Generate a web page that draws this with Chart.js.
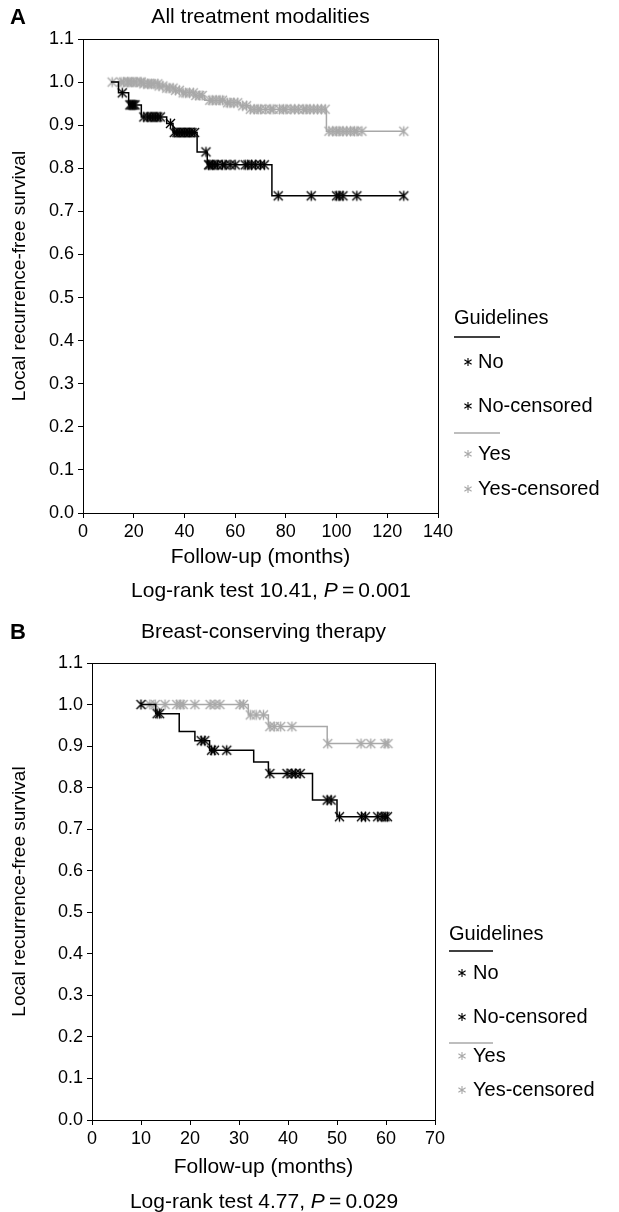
<!DOCTYPE html>
<html>
<head>
<meta charset="utf-8">
<script src="https://cdn.jsdelivr.net/npm/chart.js@4.4.1/dist/chart.umd.min.js"></script>
<style>
html, body { margin: 0; padding: 0; background: #fff; }
canvas { display: block; }
</style>
</head>
<body>
<canvas id="chartA" width="619" height="605"></canvas>
<canvas id="chartB" width="619" height="607"></canvas>
<script>
// Panel A - all treatment modalities
const noTimesA = [11, 14, 18, 23, 33, 35.5, 45, 49, 74.5, 126.5];
const noSurvA = [1.0, 0.975, 0.947, 0.919, 0.904, 0.883, 0.838, 0.808, 0.736, 0.736];
const noCensA = [15.5, 18.5, 19, 19.5, 20, 20.5, 24, 25.5, 26.5, 27.5, 28.5, 29.5, 30.5, 34.5,
  36, 37, 38, 39, 40, 41, 42, 43, 44, 48.5, 49.5, 50, 51, 52, 53, 55, 56, 58, 60, 64, 65,
  66.5, 68, 70, 71.5, 77, 90, 100, 101, 102.5, 108, 126.5];
const yesTimesA = [11, 24, 30, 33, 36, 39, 44, 48, 56, 62, 66, 96, 126.5];
const yesSurvA = [1.0, 0.996, 0.991, 0.986, 0.981, 0.975, 0.969, 0.958, 0.952, 0.945, 0.937, 0.886, 0.886];
const yesCensA = [11.5, 15, 16, 17.5, 18, 19, 20, 21, 22.5, 23, 24, 25.5, 26, 27, 28, 29.5, 30,
  31.5, 33, 34, 35.5, 36.5, 38, 39.5, 40.5, 42, 43.5, 44.5, 46, 47, 50, 51, 52.5, 54, 55, 57,
  58, 59.5, 61, 63, 64.5, 66, 67.5, 69, 70, 72, 74, 75, 77.5, 79, 80, 82, 83.5, 85, 87, 88,
  89.5, 91, 92.5, 94, 95.5, 97, 98.5, 100, 101, 102.5, 104, 105.5, 107, 108, 110, 126.5];
const xTicksA = { min: 0, max: 140, step: 20 };
const logRankA = ['10.41', '0.001'];

// Panel B - breast-conserving therapy
const noTimesB = [10, 13, 17.8, 21, 24, 33, 36, 45, 50, 60.3];
const noSurvB = [1.0, 0.978, 0.935, 0.913, 0.890, 0.862, 0.834, 0.770, 0.730, 0.730];
const noCensB = [10, 13.3, 13.8, 22.3, 23, 24.4, 25, 27.5, 36.3, 39.8, 40.8, 41.5, 42.5, 48,
  48.8, 50.5, 55, 55.8, 58.3, 59.2, 59.8, 60.3];
const yesTimesB = [10.5, 31.9, 36, 48, 60.4];
const yesSurvB = [1.0, 0.975, 0.947, 0.906, 0.906];
const yesCensB = [11.8, 12.9, 14.9, 17.3, 18, 18.6, 21, 24.1, 25.1, 26.1, 30.2, 30.9, 32.3,
  33.5, 35, 36.3, 37.2, 38.5, 40.8, 48.1, 54.9, 56.9, 59.8, 60.4];
const xTicksB = { min: 0, max: 70, step: 10 };
const logRankB = ['4.77', '0.029'];

const yTicks = { min: 0, max: 1.1, step: 0.1 };

const BLACK = '#000000';
const GREY = '#a8a8a8';
const FONT = '"Liberation Sans", Arial, Helvetica, sans-serif';

Chart.defaults.font.family = FONT;
Chart.defaults.color = '#000';

function survivalAt(times, surv, t) {
  let s = surv[0];
  for (let i = 0; i < times.length; i++) {
    if (times[i] <= t) s = surv[i];
  }
  return s;
}

// asterisk marker (vertical bar + X), like the SPSS censor mark
function starImage(color, r, lw) {
  const c = document.createElement('canvas');
  const size = Math.ceil(r * 2 + 3);
  c.width = size; c.height = size;
  const ctx = c.getContext('2d');
  const m = size / 2;
  ctx.strokeStyle = color;
  ctx.lineWidth = lw;
  ctx.beginPath();
  ctx.moveTo(m, m - r); ctx.lineTo(m, m + r);
  ctx.moveTo(m - r * 0.9, m - r * 0.9); ctx.lineTo(m + r * 0.9, m + r * 0.9);
  ctx.moveTo(m - r * 0.9, m + r * 0.9); ctx.lineTo(m + r * 0.9, m - r * 0.9);
  ctx.stroke();
  return c;
}

const starBlack = starImage(BLACK, 5, 1.4);
const starGrey = starImage(GREY, 5, 1.4);

function drawStar(ctx, x, y, r, color) {
  ctx.save();
  ctx.strokeStyle = color;
  ctx.lineWidth = 1.1;
  ctx.beginPath();
  ctx.moveTo(x, y - r); ctx.lineTo(x, y + r);
  ctx.moveTo(x - r * 0.9, y - r * 0.55); ctx.lineTo(x + r * 0.9, y + r * 0.55);
  ctx.moveTo(x - r * 0.9, y + r * 0.55); ctx.lineTo(x + r * 0.9, y - r * 0.55);
  ctx.stroke();
  ctx.restore();
}

const panelText = {
  id: 'panelText',
  afterDraw(chart, args, o) {
    const ctx = chart.ctx;
    const area = chart.chartArea;
    ctx.save();
    ctx.fillStyle = '#000';
    ctx.textBaseline = 'middle';
    ctx.font = 'bold 22px ' + FONT;
    ctx.textAlign = 'left';
    ctx.fillText(o.letter, 10, o.titleY + 1);
    ctx.font = '21px ' + FONT;
    ctx.textAlign = 'center';
    ctx.fillText(o.title, (area.left + area.right) / 2, o.titleY);

    // footer with italic P
    const parts = [
      { t: 'Log-rank test ' + o.stat + ', ', f: '21px ' + FONT },
      { t: 'P', f: 'italic 21px ' + FONT },
      { t: '\u2009=\u2009' + o.p, f: '21px ' + FONT }
    ];
    let total = 0;
    parts.forEach(p => { ctx.font = p.f; p.w = ctx.measureText(p.t).width; total += p.w; });
    let x = o.footX - total / 2;
    ctx.textAlign = 'left';
    parts.forEach(p => { ctx.font = p.f; ctx.fillText(p.t, x, o.footY); x += p.w; });
    ctx.restore();
  }
};

const frame = {
  id: 'frame',
  beforeDatasetsDraw(chart) {
    const a = chart.chartArea;
    const ctx = chart.ctx;
    ctx.save();
    ctx.strokeStyle = '#000';
    ctx.lineWidth = 1;
    ctx.strokeRect(Math.round(a.left) + 0.5, Math.round(a.top) + 0.5,
      Math.round(a.right - a.left), Math.round(a.bottom - a.top));
    ctx.restore();
  }
};

const guidelinesLegend = {
  id: 'guidelinesLegend',
  afterDraw(chart, args, o) {
    const ctx = chart.ctx;
    const ds = chart.data.datasets;
    ctx.save();
    ctx.font = '20px ' + FONT;
    ctx.textBaseline = 'middle';
    ctx.textAlign = 'left';
    ctx.fillStyle = '#000';
    ctx.fillText('Guidelines', o.x, o.rows[0]);
    // line sample for "No"
    ctx.strokeStyle = ds[0].borderColor;
    ctx.lineWidth = 1.5;
    ctx.beginPath(); ctx.moveTo(o.x, o.rows[1]); ctx.lineTo(o.x + o.lineW, o.rows[1]); ctx.stroke();
    drawStar(ctx, o.starX, o.rows[2], 4, ds[0].borderColor);
    ctx.fillText(ds[0].label, o.textX, o.rows[2]);
    drawStar(ctx, o.starX, o.rows[3], 4, ds[0].borderColor);
    ctx.fillText(ds[1].label, o.textX, o.rows[3]);
    // line sample for "Yes"
    ctx.strokeStyle = ds[2].borderColor;
    ctx.beginPath(); ctx.moveTo(o.x, o.rows[4]); ctx.lineTo(o.x + o.lineW, o.rows[4]); ctx.stroke();
    drawStar(ctx, o.starX, o.rows[5], 4, ds[2].borderColor);
    ctx.fillText(ds[2].label, o.textX, o.rows[5]);
    drawStar(ctx, o.starX, o.rows[6], 4, ds[2].borderColor);
    ctx.fillText(ds[3].label, o.textX, o.rows[6]);
    ctx.restore();
  }
};

function buildChart(id, p) {
  const curve = (times, surv) => times.map((t, i) => ({ x: t, y: surv[i] }));
  const marks = (cens, times, surv) => cens.map(t => ({ x: t, y: survivalAt(times, surv, t) }));
  return new Chart(document.getElementById(id), {
    type: 'line',
    data: {
      datasets: [
        { label: 'No', data: curve(p.noTimes, p.noSurv), borderColor: BLACK, borderWidth: 1.5,
          stepped: true, pointRadius: 0, fill: false },
        { label: 'No-censored', data: marks(p.noCens, p.noTimes, p.noSurv), borderColor: BLACK,
          showLine: false, pointStyle: starBlack, pointRadius: 5 },
        { label: 'Yes', data: curve(p.yesTimes, p.yesSurv), borderColor: GREY, borderWidth: 1.5,
          stepped: true, pointRadius: 0, fill: false },
        { label: 'Yes-censored', data: marks(p.yesCens, p.yesTimes, p.yesSurv), borderColor: GREY,
          showLine: false, pointStyle: starGrey, pointRadius: 5 }
      ]
    },
    options: {
      responsive: false,
      animation: false,
      devicePixelRatio: 1,
      events: [],
      layout: { padding: { left: 0, top: p.top, right: p.right, bottom: p.bottom } },
      plugins: {
        legend: { display: false },
        tooltip: { enabled: false },
        panelText: p.text,
        guidelinesLegend: p.legend
      },
      scales: {
        x: {
          type: 'linear', min: p.xTicks.min, max: p.xTicks.max,
          ticks: { stepSize: p.xTicks.step, font: { size: 18 }, color: '#000', padding: 3, maxRotation: 0 },
          grid: { drawOnChartArea: false, tickLength: 5, color: '#000' },
          border: { color: '#000', width: 1 },
          title: { display: true, text: 'Follow-up (months)', font: { size: 21 }, color: '#000',
            padding: { top: 0, bottom: p.xTitlePad } },
          afterFit(s) { s.height = 60; }
        },
        y: {
          type: 'linear', min: yTicks.min, max: yTicks.max,
          ticks: { stepSize: yTicks.step, font: { size: 18 }, color: '#000', padding: 4,
            callback: v => v.toFixed(1) },
          grid: { drawOnChartArea: false, tickLength: 5, color: '#000' },
          border: { color: '#000', width: 1 },
          title: { display: true, text: 'Local recurrence-free survival', font: { size: 19 }, color: '#000',
            padding: { top: 8, bottom: 0 } },
          afterFit(s) { s.width = p.yWidth; }
        }
      }
    },
    plugins: [frame, panelText, guidelinesLegend]
  });
}

buildChart('chartA', {
  noTimes: noTimesA, noSurv: noSurvA, noCens: noCensA,
  yesTimes: yesTimesA, yesSurv: yesSurvA, yesCens: yesCensA,
  xTicks: xTicksA, top: 39, right: 181, bottom: 32, yWidth: 83, xTitlePad: 3,
  text: { letter: 'A', title: 'All treatment modalities', titleY: 17,
    stat: logRankA[0], p: logRankA[1], footX: 271, footY: 591 },
  legend: { x: 454, lineW: 46, starX: 468, textX: 478, rows: [318, 337, 362, 406, 433, 454, 489] }
});

buildChart('chartB', {
  noTimes: noTimesB, noSurv: noSurvB, noCens: noCensB,
  yesTimes: yesTimesB, yesSurv: yesSurvB, yesCens: yesCensB,
  xTicks: xTicksB, top: 58, right: 184, bottom: 32, yWidth: 92, xTitlePad: 0,
  text: { letter: 'B', title: 'Breast-conserving therapy', titleY: 27,
    stat: logRankB[0], p: logRankB[1], footX: 264, footY: 597 },
  legend: { x: 449, lineW: 44, starX: 462, textX: 473, rows: [329, 346, 368, 412, 438, 451, 485] }
});
</script>
</body>
</html>
